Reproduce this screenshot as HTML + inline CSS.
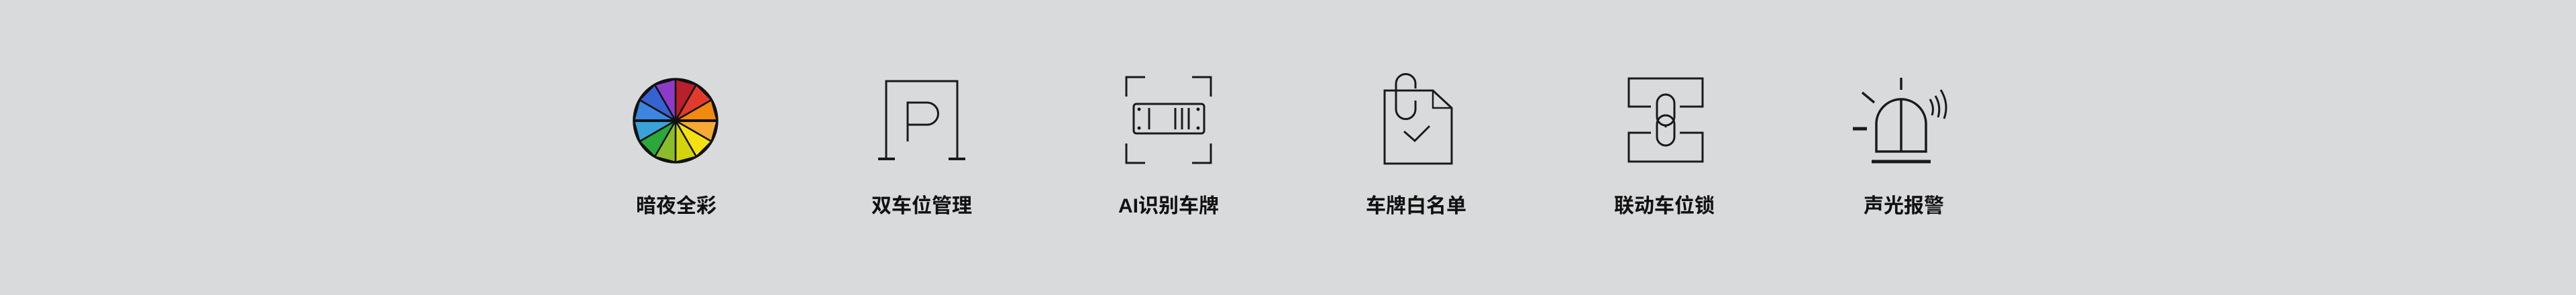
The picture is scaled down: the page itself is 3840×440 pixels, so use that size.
<!DOCTYPE html>
<html><head><meta charset="utf-8"><style>
html,body{margin:0;padding:0}
body{width:3840px;height:440px;background:#d9dadc;overflow:hidden;position:relative;font-family:"Liberation Sans","Noto Sans CJK SC",sans-serif}
.l{position:absolute;top:290px;font-size:30px;font-weight:bold;color:#111;width:300px;text-align:center;line-height:36px}
svg{position:absolute;left:0;top:0}
</style></head><body>
<svg width="3840" height="440" viewBox="0 0 3840 440">
<g transform="translate(1007,180)" stroke="#111" stroke-width="2.5" stroke-linejoin="round">
<path d="M0 0L0 -62L31 -53.7Z" fill="#b8202a"/>
<path d="M0 0L31 -53.7L53.7 -31Z" fill="#e33a2e"/>
<path d="M0 0L53.7 -31L62 0Z" fill="#ef8a0f"/>
<path d="M0 0L62 0L53.7 31Z" fill="#f6a935"/>
<path d="M0 0L53.7 31L31 53.7Z" fill="#f5e10f"/>
<path d="M0 0L31 53.7L0 62Z" fill="#d4d40c"/>
<path d="M0 0L0 62L-31 53.7Z" fill="#8bbd2a"/>
<path d="M0 0L-31 53.7L-53.7 31Z" fill="#2ca83a"/>
<path d="M0 0L-53.7 31L-62 0Z" fill="#39a3d9"/>
<path d="M0 0L-62 0L-53.7 -31Z" fill="#3d86e0"/>
<path d="M0 0L-53.7 -31L-31 -53.7Z" fill="#3563d2"/>
<path d="M0 0L-31 -53.7L0 -62Z" fill="#8b3bc8"/>
<circle r="62" fill="none" stroke-width="3.5"/>
<line x1="-62" y1="0" x2="62" y2="0" stroke-width="4"/>
</g>
<g fill="none" stroke="#1a1a1a" stroke-width="3">
<path d="M1321 238V121H1427V238"/>
<path d="M1309 237H1334M1414 237H1439" stroke-width="4"/>
<path d="M1353 211V153H1382A16.5 16.5 0 0 1 1382 186H1353"/>
<path d="M1679 144V115H1707M1777 115H1805V144M1679 214V243H1707M1777 243H1805V214"/>
<rect x="1690" y="155" width="105" height="44" rx="4"/>
<path d="M1713 161V193M1752 161V193M1762 161V193M1772 161V193"/>
<path d="M2064 244V135H2136L2164 161V244Z"/>
<path d="M2136 135V161H2164" stroke-width="2.5"/>
<path d="M2093 196L2109 210L2131 188"/>
<path d="M2110 150V163A14.5 14.5 0 0 1 2081 163V125A14.5 14.5 0 0 1 2110 125V132"/>
<path d="M2461 159H2428V117H2538V159H2504"/>
<path d="M2461 198H2428V241H2538V198H2504"/>
<rect x="2470" y="141" width="26" height="46" rx="13"/>
<path d="M2483 186V190"/>
<rect x="2470" y="172" width="26" height="45" rx="13"/>
<path d="M2797 226V185A37 37 0 0 1 2871 185V226Z" stroke-width="3.5"/>
<path d="M2834 116V134M2834 148V226" stroke-width="3.5"/>
<path d="M2790 241H2878" stroke-width="5"/>
<path d="M2762 192H2783" stroke-width="5"/>
<path d="M2776 138L2794 153" stroke-width="3.5"/>
<path d="M2877 148Q2884 160 2880 172M2885 143Q2894 158 2889 175M2893 134Q2906 155 2898 177" stroke-width="3"/>
</g>
<g fill="#1a1a1a">
<circle cx="1698" cy="163" r="2.5"/><circle cx="1698" cy="191" r="2.5"/>
<circle cx="1786" cy="163" r="2.5"/><circle cx="1786" cy="191" r="2.5"/>
</g>
</svg>
<div class="l" style="left:858px">暗夜全彩</div>
<div class="l" style="left:1224px">双车位管理</div>
<div class="l" style="left:1592px">AI识别车牌</div>
<div class="l" style="left:1961px">车牌白名单</div>
<div class="l" style="left:2331px">联动车位锁</div>
<div class="l" style="left:2688px">声光报警</div>
</body></html>
